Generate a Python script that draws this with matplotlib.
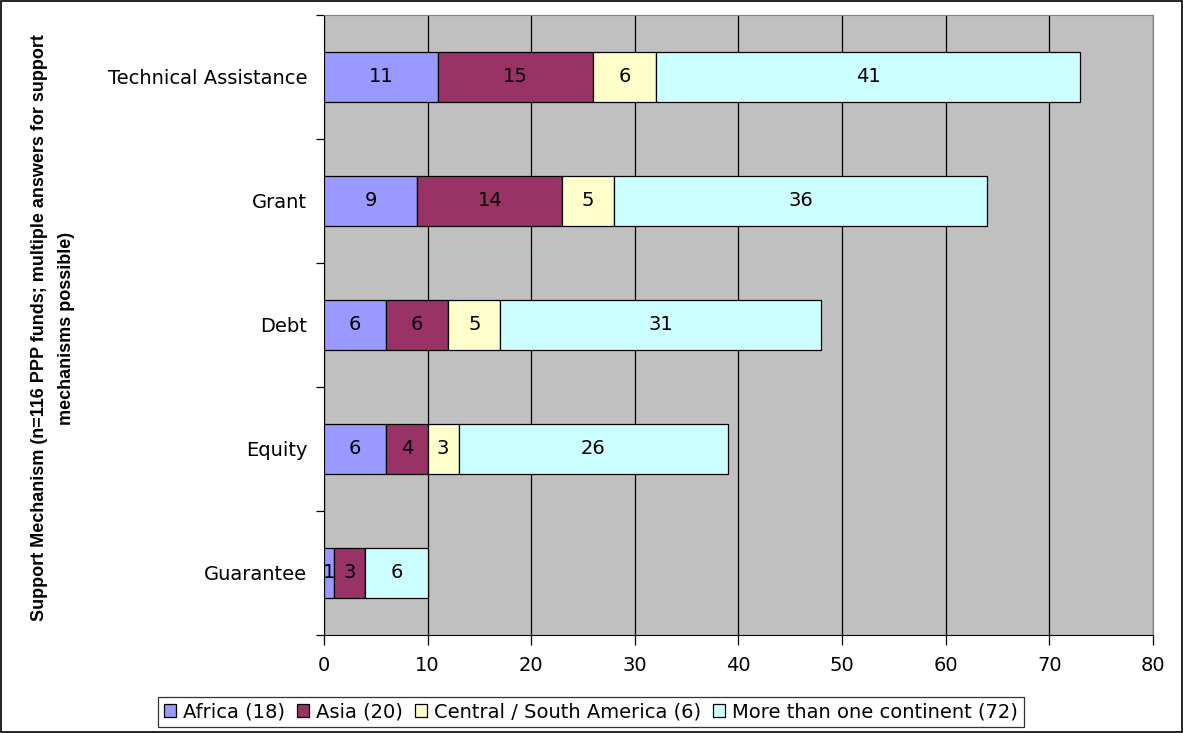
import matplotlib
matplotlib.use("Agg")
import matplotlib.pyplot as plt
from matplotlib.patches import Rectangle
import numpy as np

categories = ["Technical Assistance", "Grant", "Debt", "Equity", "Guarantee"]
series_names = ["Africa (18)", "Asia (20)", "Central / South America (6)", "More than one continent (72)"]
africa = [11, 9, 6, 6, 1]
asia = [15, 14, 6, 4, 3]
central = [6, 5, 5, 3, 0]
more = [41, 36, 31, 26, 6]
colors = ["#9999FF", "#993366", "#FFFFCC", "#CCFFFF"]
xticks = [0, 10, 20, 30, 40, 50, 60, 70, 80]

plt.rcParams['font.family'] = ['DejaVu Sans']
FS = 14

fig = plt.figure(figsize=(11.83, 7.33), dpi=100)
ax = fig.add_axes([324/1183, 1-635/733, (1153-324)/1183, (635-15)/733])
ax.set_facecolor("#C0C0C0")

n = len(categories)
ypos = np.arange(n)
series = [africa, asia, central, more]
left = np.zeros(n)
for vals, col, name in zip(series, colors, series_names):
    vals = np.array(vals, dtype=float)
    bars = ax.barh(ypos, vals, left=left, height=0.4, color=col, edgecolor="black",
                   linewidth=0.9, label=name, zorder=3)
    for b, v, l in zip(bars, vals, left):
        if v > 0:
            ax.text(l + v/2, b.get_y() + b.get_height()/2, f"{int(v)}", ha="center", va="center",
                    fontsize=FS, color="black", zorder=4)
    left = left + vals

ax.set_xlim(0, 80)
ax.set_ylim(n - 0.5, -0.5)
ax.set_xticks(xticks)
ax.set_xticklabels([str(t) for t in xticks], fontsize=FS)
ax.xaxis.grid(True, color="black", linewidth=0.9, zorder=1)
ax.set_axisbelow(True)
ax.tick_params(axis="x", direction="out", length=7, width=0.9, pad=8)

ax.set_yticks(ypos)
ax.set_yticklabels(categories, fontsize=FS)
ax.tick_params(axis="y", length=0, pad=12)
ax.set_yticks(np.arange(-0.5, n, 1.0), minor=True)
ax.tick_params(axis="y", which="minor", direction="out", length=6, width=0.9)

for s in ["top", "right"]:
    ax.spines[s].set_color("#808080")
for s in ["left", "bottom"]:
    ax.spines[s].set_color("black")

fig.text(53/1183, 1-328/733,
         "Support Mechanism (n=116 PPP funds; multiple answers for support\nmechanisms possible)",
         rotation=90, ha="center", va="center", fontsize=13, fontweight="bold",
         family=["Liberation Sans", "DejaVu Sans"], linespacing=1.75)

leg = fig.legend(loc="center", bbox_to_anchor=(591/1183, 1-712/733), ncol=4, fontsize=FS,
                 frameon=True, fancybox=False, edgecolor="black", handlelength=0.6,
                 handleheight=0.6, handletextpad=0.35, columnspacing=0.65, borderpad=0.3)
leg.get_frame().set_linewidth(0.9)

fig.patches.append(Rectangle((0.001, 0.001), 0.998, 0.998, transform=fig.transFigure,
                             fill=False, edgecolor="black", linewidth=1.2))

fig.savefig("out.png", dpi=100)
